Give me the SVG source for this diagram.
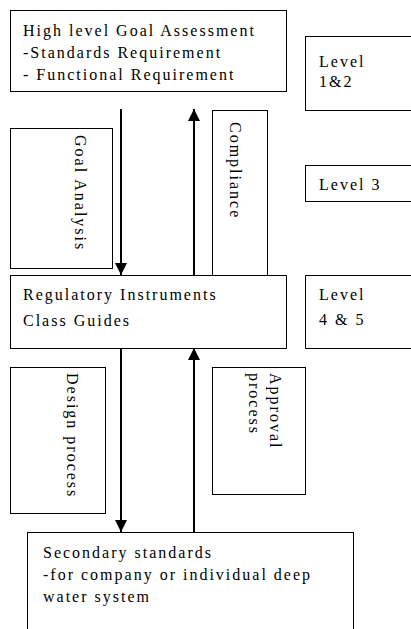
<svg xmlns="http://www.w3.org/2000/svg" width="411" height="629" viewBox="0 0 411 629">
  <style>
    .box { fill: #ffffff; stroke: #000000; stroke-width: 1; }
    .lbl { font-family: "Liberation Serif", "Times New Roman", serif; font-size: 16px; letter-spacing: 2px; fill: #000000; }
    .flow { stroke: #000000; stroke-width: 2; fill: none; }
  </style>
  <defs>
    <marker id="head" viewBox="0 0 12 12" refX="12" refY="6" markerWidth="12" markerHeight="12" markerUnits="userSpaceOnUse" orient="auto">
      <path d="M0,0 L12,6 L0,12 Z" fill="#000000"/>
    </marker>
  </defs>

  <!-- side bands -->
  <g id="goal-analysis">
    <rect class="box" x="10.5" y="128.5" width="102" height="140"/>
    <text class="lbl" transform="translate(75,135) rotate(90)">Goal Analysis</text>
  </g>
  <g id="compliance">
    <rect class="box" x="212.5" y="110.5" width="55" height="166"/>
    <text class="lbl" transform="translate(230,122) rotate(90)">Compliance</text>
  </g>
  <g id="design-process">
    <rect class="box" x="10.5" y="367.5" width="95" height="146"/>
    <text class="lbl" transform="translate(67,373) rotate(90)">Design process</text>
  </g>
  <g id="approval-process">
    <rect class="box" x="212.5" y="367.5" width="93" height="127"/>
    <text class="lbl" transform="translate(270,373) rotate(90)">Approval<tspan x="0" dy="21">process</tspan></text>
  </g>

  <!-- main tiers -->
  <g id="goal-assessment">
    <rect class="box" x="10.5" y="10.5" width="276" height="81"/>
    <text class="lbl" x="23" y="36">High level Goal Assessment</text>
    <text class="lbl" x="23" y="58">-Standards Requirement</text>
    <text class="lbl" x="23" y="80">- Functional Requirement</text>
  </g>
  <g id="regulatory-instruments">
    <rect class="box" x="10.5" y="275.5" width="276" height="73"/>
    <text class="lbl" x="23" y="300">Regulatory Instruments</text>
    <text class="lbl" x="23" y="326">Class Guides</text>
  </g>
  <g id="secondary-standards">
    <rect class="box" x="27.5" y="532.5" width="326" height="110"/>
    <text class="lbl" x="43" y="558">Secondary standards</text>
    <text class="lbl" x="43" y="580">-for company or individual deep</text>
    <text class="lbl" x="43" y="602">water system</text>
  </g>

  <!-- level labels -->
  <g id="level-1-2">
    <rect class="box" x="305.5" y="36.5" width="120" height="74"/>
    <text class="lbl" x="319" y="67">Level</text>
    <text class="lbl" x="319" y="87">1&amp;2</text>
  </g>
  <g id="level-3">
    <rect class="box" x="305.5" y="165.5" width="120" height="36"/>
    <text class="lbl" x="319" y="190">Level 3</text>
  </g>
  <g id="level-4-5">
    <rect class="box" x="305.5" y="275.5" width="120" height="73"/>
    <text class="lbl" x="319" y="300">Level</text>
    <text class="lbl" x="319" y="325">4 &amp; 5</text>
  </g>

  <!-- connectors -->
  <g id="connectors">
    <line class="flow" x1="121" y1="109" x2="121" y2="275" marker-end="url(#head)"/>
    <line class="flow" x1="194" y1="275" x2="194" y2="109" marker-end="url(#head)"/>
    <line class="flow" x1="121" y1="348" x2="121" y2="532" marker-end="url(#head)"/>
    <line class="flow" x1="194" y1="532" x2="194" y2="348" marker-end="url(#head)"/>
  </g>
</svg>
